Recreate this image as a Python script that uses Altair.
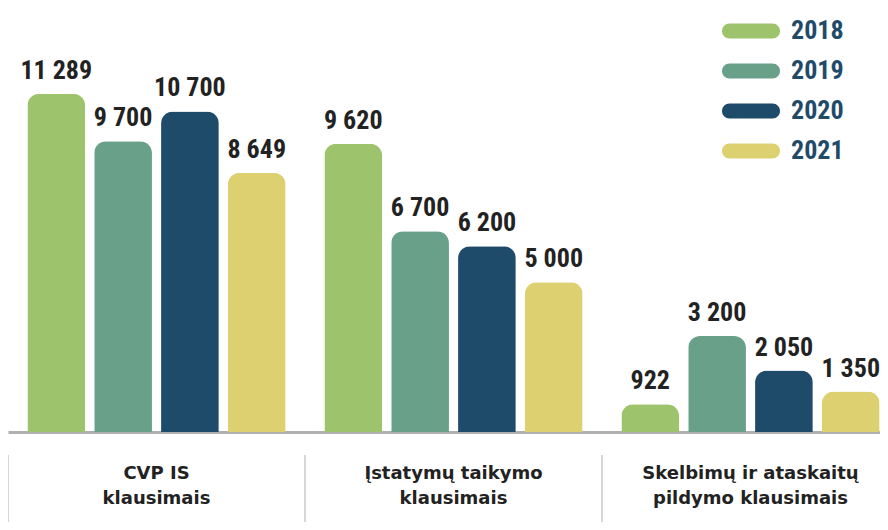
import altair as alt
import pandas as pd

categories = ["CVP IS|klausimais", "Įstatymų taikymo|klausimais", "Skelbimų ir ataskaitų|pildymo klausimais"]
years = ["2018", "2019", "2020", "2021"]
colors = ["#9dc36c", "#68a08a", "#1f4b6b", "#ddd070"]
values = {
    "2018": [11289, 9620, 922],
    "2019": [9700, 6700, 3200],
    "2020": [10700, 6200, 2050],
    "2021": [8649, 5000, 1350],
}

rows = []
for y in years:
    for c, v in zip(categories, values[y]):
        rows.append({"cat": c, "year": y, "value": v, "label": f"{v:,}".replace(",", " ")})
df = pd.DataFrame(rows)
sep_df = pd.DataFrame({"cat": categories})

NUMFONT = "'Liberation Sans Narrow', 'Roboto Condensed', Roboto"
CATFONT = "'DejaVu Sans', Inter, sans-serif"

x = alt.X("cat:N", sort=categories, title=None,
          scale=alt.Scale(range=[0, 891], paddingInner=0, paddingOuter=0),
          axis=alt.Axis(domain=True, domainColor="#b0b0b0", domainWidth=3, ticks=False,
                        labelAngle=0, labelFont=CATFONT, labelFontSize=18, labelFontWeight="bold",
                        labelColor="#222222", labelPadding=32, labelLineHeight=25, labelLimit=0,
                        labelExpr="split(datum.label, '|')", grid=False))
xo = alt.XOffset("year:N", sort=years,
                 scale=alt.Scale(paddingInner=0.136, paddingOuter=0.29))
yenc = alt.Y("value:Q", scale=alt.Scale(domain=[0, 14150], nice=False), axis=None)

sym_path = "M -2.867 -1 L 2.867 -1 A 1 1 0 0 1 2.867 1 L -2.867 1 A 1 1 0 0 1 -2.867 -1 Z"

bars = alt.Chart(df).mark_bar(cornerRadiusTopLeft=12, cornerRadiusTopRight=12).encode(
    x=x, xOffset=xo, y=yenc,
    color=alt.Color("year:N", sort=years,
                    scale=alt.Scale(domain=years, range=colors),
                    legend=alt.Legend(title=None, orient="none", legendX=730, legendY=10,
                                      symbolType=sym_path, symbolSize=225, symbolStrokeWidth=0,
                                      symbolOpacity=1, labelFont=NUMFONT, labelFontSize=26,
                                      labelFontWeight="bold", labelColor="#1f4b6b",
                                      labelOffset=27, rowPadding=14, padding=0)),
)

texts = alt.Chart(df).mark_text(baseline="alphabetic", dy=-15, font=NUMFONT, fontSize=26,
                                fontWeight="bold", color="#222222").encode(
    x=x, xOffset=xo, y=yenc, text="label:N"
)

seps = alt.Chart(sep_df).mark_rule(color="#c8c8c8", strokeWidth=1.5).encode(
    x=alt.X("cat:N", sort=categories, bandPosition=0),
    y=alt.value(447), y2=alt.value(530)
)

chart = alt.layer(bars, texts, seps).properties(
    width=872, height=424,
    padding={"left": 0, "top": 0, "right": 0, "bottom": 90},
    autosize=alt.AutoSizeParams(type="none")
).configure_view(stroke=None)

chart.save("out.html", embed_options={"renderer": "svg", "actions": False})
